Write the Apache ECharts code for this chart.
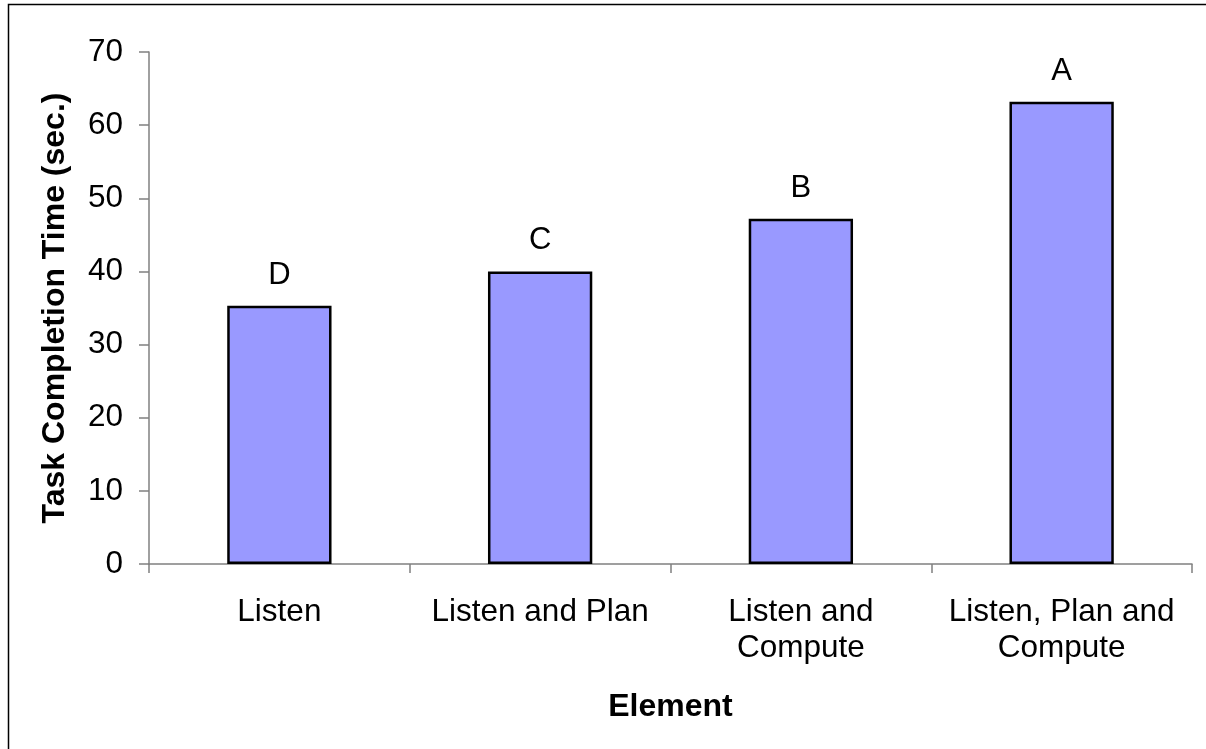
<!DOCTYPE html>
<html>
<head>
<meta charset="utf-8">
<script src="https://cdn.jsdelivr.net/npm/echarts@6/dist/echarts.min.js"></script>
<style>
  html, body { margin: 0; padding: 0; background: #fff; }
  #chart { width: 1206px; height: 749px; }
</style>
</head>
<body>
<div id="chart"></div>
<script>
// Task completion time per element, with ranking letters
const categories = ['Listen', 'Listen and Plan', 'Listen and\nCompute', 'Listen, Plan and\nCompute'];
const completionTimes = [35.3, 40.0, 47.2, 63.2];
const rankLetters = ['D', 'C', 'B', 'A'];
const yTicks = { min: 0, max: 70, interval: 10 };

const FONT = '"Liberation Sans", Arial, sans-serif';
const chart = echarts.init(document.getElementById('chart'), null, { renderer: 'canvas' });

chart.setOption({
  backgroundColor: '#ffffff',
  animation: false,
  graphic: [{
    type: 'rect',
    shape: { x: 8.5, y: 4.5, width: 1210, height: 760 },
    style: { fill: 'none', stroke: '#000', lineWidth: 1.5 },
    silent: true
  }],
  grid: { left: 149, right: 14, top: 52, bottom: 185, containLabel: false },
  xAxis: {
    type: 'category',
    data: categories,
    name: 'Element',
    nameLocation: 'middle',
    nameGap: 127,
    nameTextStyle: { fontFamily: FONT, fontSize: 32, fontWeight: 'bold', color: '#000' },
    axisLine: { lineStyle: { color: '#808080', width: 1.5 } },
    axisTick: { show: true, length: 9, lineStyle: { color: '#808080', width: 1.5 } },
    axisLabel: { fontFamily: FONT, fontSize: 31.5, color: '#000', margin: 30, lineHeight: 36, interval: 0 }
  },
  yAxis: {
    type: 'value',
    min: yTicks.min,
    max: yTicks.max,
    interval: yTicks.interval,
    name: 'Task Completion Time (sec.)',
    nameLocation: 'middle',
    nameGap: 78,
    nameRotate: 90,
    nameTextStyle: { fontFamily: FONT, fontSize: 32, fontWeight: 'bold', color: '#000' },
    splitLine: { show: false },
    axisLine: { show: true, lineStyle: { color: '#808080', width: 1.5 } },
    axisTick: { show: true, length: 10, lineStyle: { color: '#808080', width: 1.5 } },
    axisLabel: { fontFamily: FONT, fontSize: 31.5, color: '#000', margin: 26 }
  },
  series: [{
    type: 'bar',
    data: completionTimes,
    barWidth: '40%',
    itemStyle: { color: '#9999FF', borderColor: '#000', borderWidth: 2.5 },
    label: {
      show: true,
      position: 'top',
      distance: 15,
      fontFamily: FONT,
      fontSize: 31,
      color: '#000',
      formatter: p => rankLetters[p.dataIndex]
    }
  }]
});
</script>
</body>
</html>
